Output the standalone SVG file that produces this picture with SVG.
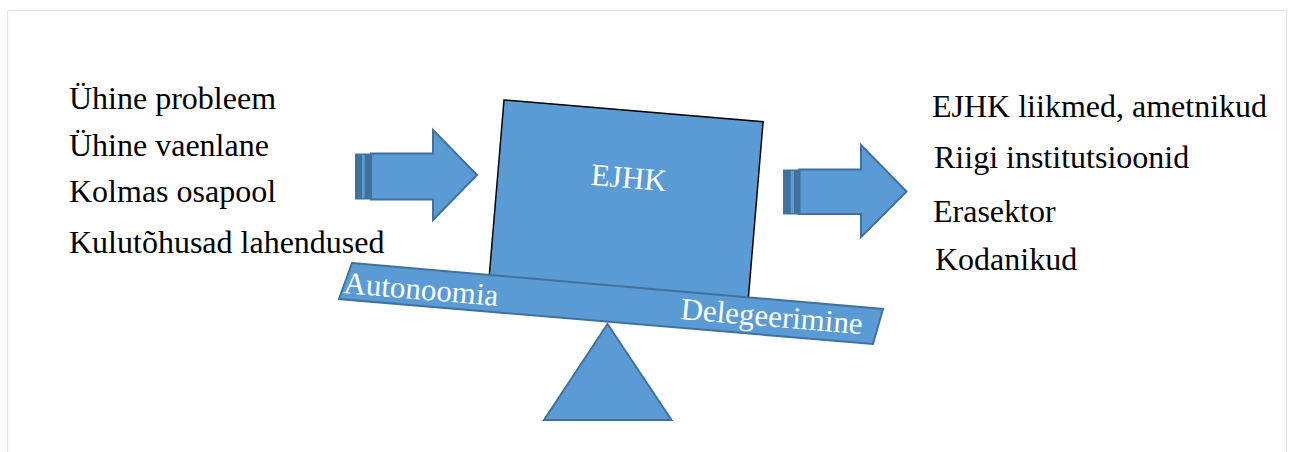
<svg xmlns="http://www.w3.org/2000/svg" width="1293" height="452" viewBox="0 0 1293 452">
<style>
.t{font-family:"Liberation Serif","Times New Roman",serif;font-size:32px;fill:#000}
.w{font-family:"Liberation Serif","Times New Roman",serif;font-size:31px;fill:#fff}
.s{fill:#5B9BD5;stroke:#41719C;stroke-width:2;stroke-linejoin:miter}
.d{fill:#41719C}
</style>
<rect x="0" y="0" width="1293" height="452" fill="#fff"/>
<rect x="7.5" y="10.5" width="1279" height="460" fill="none" stroke="#E6E6E6" stroke-width="1.2"/>
<g id="inputs" font-family="Liberation Serif, serif">
<text class="t" x="69" y="109">Ühine probleem</text>
<text class="t" x="69" y="156">Ühine vaenlane</text>
<text class="t" x="69" y="202">Kolmas osapool</text>
<text class="t" x="69" y="253">Kulutõhusad lahendused</text>
</g>
<g id="outputs" font-family="Liberation Serif, serif">
<text class="t" x="932" y="117">EJHK liikmed, ametnikud</text>
<text class="t" x="934" y="168">Riigi institutsioonid</text>
<text class="t" x="933" y="222">Erasektor</text>
<text class="t" x="935" y="270">Kodanikud</text>
</g>
<g id="connectors">
<g id="arrow-in">
<rect x="355" y="153.5" width="15.5" height="46" class="d"/>
<rect x="362" y="155" width="2.7" height="43" fill="#5B9BD5"/>
<polygon class="s" points="371,153.5 433,153.5 433,130 477,175 433,220 433,199.5 371,199.5"/>
</g>
<g id="arrow-out">
<rect x="783" y="169.5" width="16" height="45" class="d"/>
<rect x="790.7" y="171" width="3.3" height="42" fill="#5B9BD5"/>
<polygon class="s" points="799.5,169.5 861,169.5 861,145 906.5,191.5 861,237 861,214 799.5,214"/>
</g>
</g>
<g id="ejhk">
<polygon points="504,100 763.1,121.8 746.4,321.1 487.3,299.3" fill="#5B9BD5" stroke="#000" stroke-width="1.5"/>
<text class="w" x="628" y="188" text-anchor="middle" font-size="32" transform="rotate(4.8 628 188)">EJHK</text>
</g>
<g id="beam">
<polygon class="s" points="352,263 883,309 873,344 339,299"/>
<text class="w" x="343" y="293" transform="rotate(4.8 343 293)">Autonoomia</text>
<text class="w" x="680" y="319" transform="rotate(4.8 680 319)">Delegeerimine</text>
</g>
<g id="fulcrum">
<polygon class="s" points="607.5,324 671.5,420 544,420"/>
</g>
</svg>
